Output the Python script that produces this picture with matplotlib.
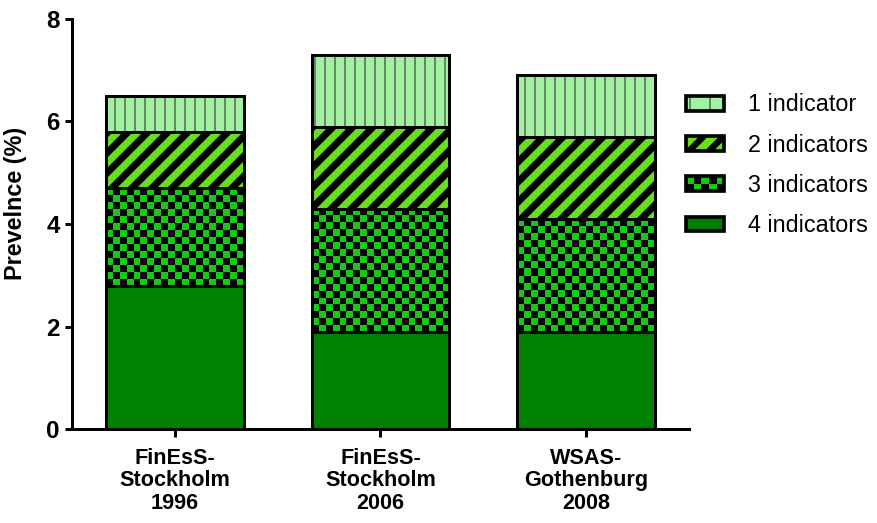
""" Prevalence by number of indicators, stacked bars """
import numpy as np
import matplotlib
matplotlib.use('Agg')
import matplotlib.pyplot as plt
from matplotlib.patches import Rectangle
from matplotlib.colors import ListedColormap
from matplotlib.legend_handler import HandlerBase

plt.rcParams['font.family'] = ['Liberation Sans', 'DejaVu Sans']

#------------ Data ------------#
groups = ['FinEsS-\nStockholm\n1996', 'FinEsS-\nStockholm\n2006', 'WSAS-\nGothenburg\n2008']
ind4 = [2.8, 1.9, 1.9]     # bottom segment
ind3 = [1.9, 2.4, 2.2]
ind2 = [1.1, 1.6, 1.6]
ind1 = [0.7, 1.4, 1.2]     # top segment
labels = ['1 indicator', '2 indicators', '3 indicators', '4 indicators']

#------------ Styles ------------#
C1, C1_LINE = '#a4f0a2', '#5e7f5e'
C2 = '#66e01c'
C3 = '#14c814'
C4 = '#008000'
W = 0.67
CELL_PX = 7

fig = plt.figure(figsize=(8.77 / 1.2, 5.23 / 1.2), dpi=120)
ax = fig.add_axes([0.0821, 0.1797, 0.7035, 0.784])
ax.set_xlim(-0.5, 2.5)
ax.set_ylim(0, 8)
x = np.arange(len(groups))

b4 = np.array(ind4)
b3 = b4 + np.array(ind3)
b2 = b3 + np.array(ind2)


def outline(vals, bottom):
    ax.bar(x, vals, W, bottom=bottom, fill=False, edgecolor='black', linewidth=1.8, zorder=3)


def hatched(vals, bottom, fc, hc, hatch, hlw):
    with plt.rc_context({'hatch.linewidth': hlw}):
        bars = ax.bar(x, vals, W, bottom=bottom, color=fc, edgecolor=hc,
                      hatch=hatch, linewidth=0, zorder=1)
    for b in bars:
        if hasattr(b, 'set_hatch_linewidth'):
            b.set_hatch_linewidth(hlw)
    outline(vals, bottom)


# 4 indicators: plain dark green
ax.bar(x, ind4, W, color=C4, linewidth=0, zorder=1)
outline(ind4, 0)

# 3 indicators: checkerboard, clipped to each bar
sx, sy = ax.transData.transform((1, 1)) - ax.transData.transform((0, 0))
bars3 = ax.bar(x, ind3, W, bottom=b4, color=C3, linewidth=0, zorder=1)
for b in bars3:
    nx = max(1, int(round(b.get_width() * sx / CELL_PX)))
    ny = max(1, int(round(b.get_height() * sy / CELL_PX)))
    board = np.add.outer(np.arange(ny), np.arange(nx)) % 2
    img = ax.imshow(board, cmap=ListedColormap(['black', C3]), aspect='auto',
                    interpolation='nearest', origin='lower', zorder=2,
                    extent=(b.get_x(), b.get_x() + b.get_width(),
                            b.get_y(), b.get_y() + b.get_height()))
    img.set_clip_path(b)
outline(ind3, b4)

# 2 indicators: thick diagonal stripes
hatched(ind2, b3, C2, 'black', '//', 4.2)
# 1 indicator: thin vertical lines
hatched(ind1, b2, C1, C1_LINE, '||', 1.1)

ax.set_xlim(-0.5, 2.5)
ax.set_ylim(0, 8)

#------------ Axes ------------#
for s in ['top', 'right']:
    ax.spines[s].set_visible(False)
for s in ['left', 'bottom']:
    ax.spines[s].set_linewidth(1.8)
ax.set_yticks([0, 2, 4, 6, 8])
ax.set_xticks(x)
ax.set_xticklabels(groups, fontsize=13, fontweight='bold', linespacing=1.08)
ax.tick_params(axis='both', direction='out', length=4.5, width=1.8)
ax.tick_params(axis='y', labelsize=14.5, pad=3)
ax.tick_params(axis='x', pad=7)
for t in ax.get_yticklabels():
    t.set_fontweight('bold')
ax.set_ylabel('Prevelnce (%)', fontsize=14, fontweight='bold')
ax.yaxis.set_label_coords(-0.073, 0.549)


#------------ Legend ------------#
class Swatch:
    def __init__(self, fc, hc=None, hatch=None, hlw=1.0, checker=False):
        self.fc, self.hc, self.hatch, self.hlw, self.checker = fc, hc, hatch, hlw, checker


class SwatchHandler(HandlerBase):
    def create_artists(self, legend, orig, xd, yd, width, height, fontsize, trans):
        x0, y0 = -xd, -yd
        arts = []
        bg = Rectangle((x0, y0), width, height, facecolor=orig.fc, linewidth=0,
                       edgecolor=orig.hc if orig.hc else orig.fc,
                       hatch=orig.hatch)
        if orig.hatch and hasattr(bg, 'set_hatch_linewidth'):
            bg.set_hatch_linewidth(orig.hlw)
        arts.append(bg)
        if orig.checker:
            nx, ny = 5, 2
            cw, ch = width / nx, height / ny
            for i in range(nx):
                for j in range(ny):
                    if (i + j) % 2 == 0:
                        arts.append(Rectangle((x0 + i * cw, y0 + j * ch), cw, ch,
                                              facecolor='black', linewidth=0))
        arts.append(Rectangle((x0, y0), width, height, fill=False,
                              edgecolor='black', linewidth=2.2))
        for a in arts:
            a.set_transform(trans)
        return arts


handles = [Swatch(C1, C1_LINE, '|', 1.1), Swatch(C2, 'black', '//', 3.8),
           Swatch(C3, checker=True), Swatch(C4)]
fig.legend(handles, labels, handler_map={Swatch: SwatchHandler()},
           loc='center left', bbox_to_anchor=(0.782, 0.684), frameon=False,
           fontsize=14, borderpad=0, borderaxespad=0,
           handlelength=1.65, handleheight=0.6, handletextpad=1.0, labelspacing=0.74)

fig.savefig('out.png', dpi=120)
